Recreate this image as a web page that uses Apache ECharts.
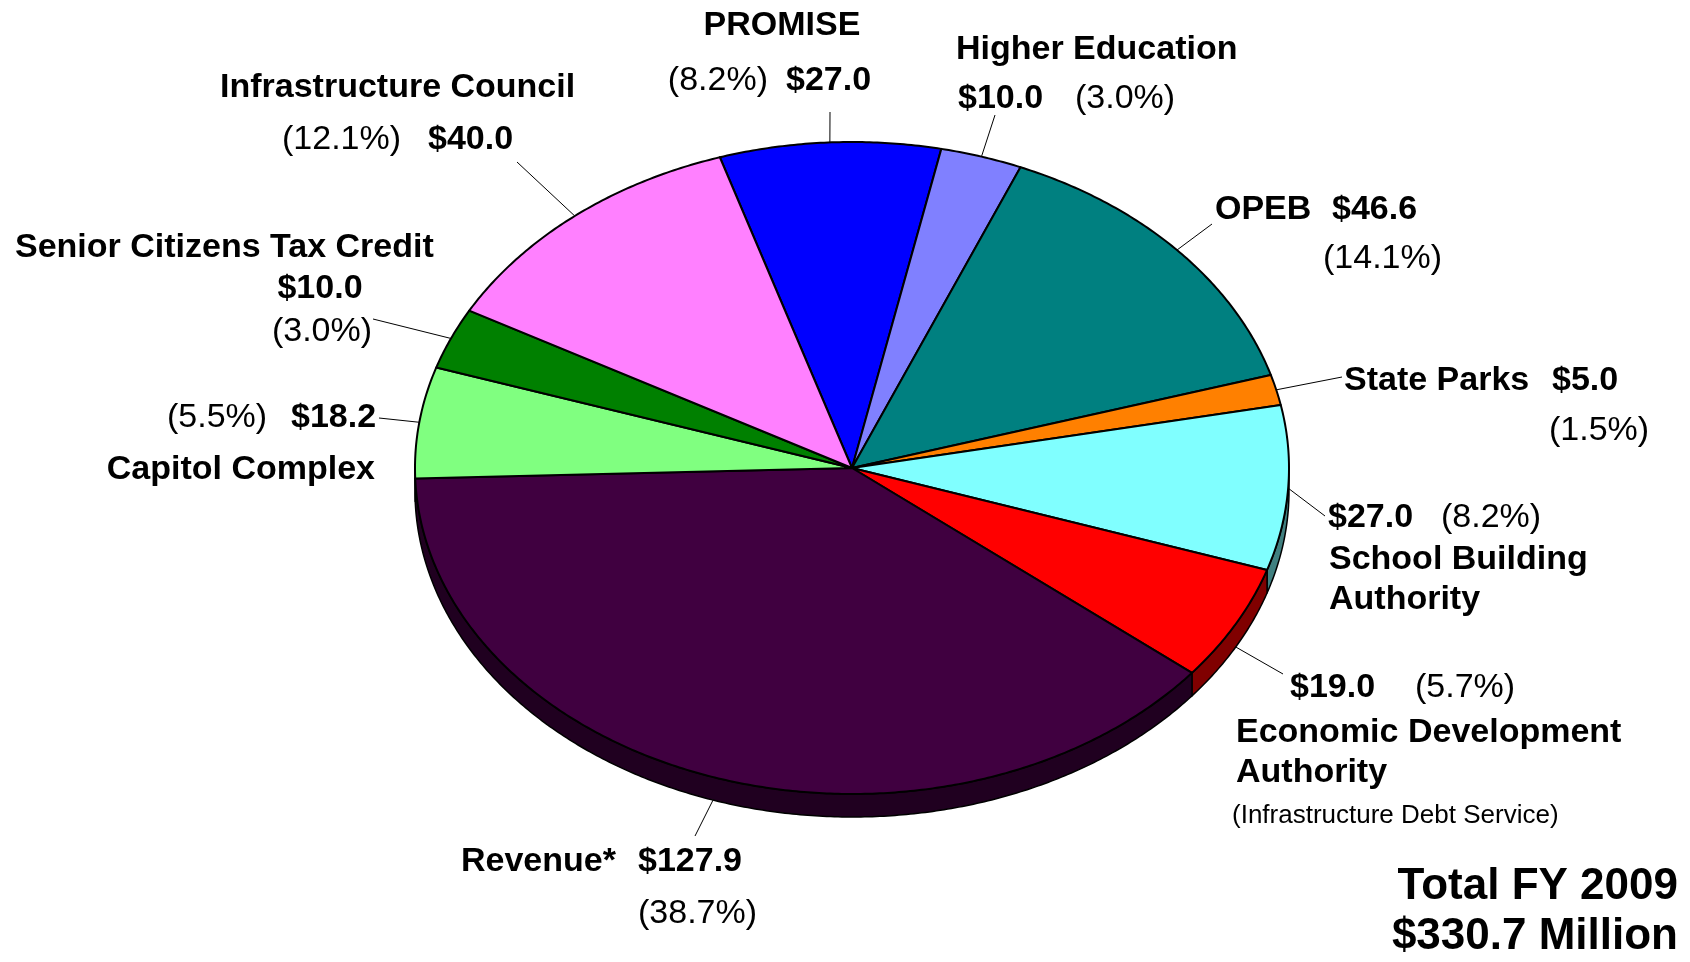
<!DOCTYPE html>
<html>
<head>
<meta charset="utf-8">
<style>
  html, body { margin: 0; padding: 0; background: #ffffff; }
  #chart { width: 1690px; height: 962px; }
</style>
<script src="https://cdn.jsdelivr.net/npm/echarts@6/dist/echarts.min.js"></script>
</head>
<body>
<div id="chart"></div>
<script>
// ---- data ----
const categories = ['PROMISE', 'Higher Education', 'OPEB', 'State Parks', 'School Building\nAuthority',
  'Economic Development\nAuthority', 'Revenue*', 'Capitol Complex', 'Senior Citizens Tax Credit', 'Infrastructure Council'];
const values = [27.0, 10.0, 46.6, 5.0, 27.0, 19.0, 127.9, 18.2, 10.0, 40.0];
const percents = ['8.2%', '3.0%', '14.1%', '1.5%', '8.2%', '5.7%', '38.7%', '5.5%', '3.0%', '12.1%'];
const edaNote = '(Infrastructure Debt Service)';
const totalLines = ['Total FY 2009', '$330.7 Million'];

// ---- styling / layout (not data) ----
const colors = ['#0000FF', '#8080FF', '#008080', '#FF8000', '#80FFFF', '#FF0000', '#400040', '#80FF80', '#008000', '#FF80FF'];
const CX = 852, CY = 468, RX = 437, RY = 326, DEPTH = 23, START_DEG = -17.6;
const FONT = '"Liberation Sans", Arial, sans-serif';
const BOLD = 'bold 34px ' + FONT, REG = '34px ' + FONT;

const layout = [
  { name: [782, 26, 'center'], pct: [768, 81, 'right'], val: [786, 81, 'left'], lead: [830, 112] },
  { name: [956, 50, 'left'], val: [958, 99, 'left'], pct: [1075, 99, 'left'], lead: [995, 115] },
  { name: [1215, 210, 'left'], val: [1332, 210, 'left'], pct: [1323, 259, 'left'], lead: [1212, 224] },
  { name: [1344, 381, 'left'], val: [1552, 381, 'left'], pct: [1549, 431, 'left'], lead: [1342, 377] },
  { val: [1328, 518, 'left'], pct: [1441, 518, 'left'], name: [1329, 580, 'left'], lead: [1325, 516] },
  { val: [1290, 688, 'left'], pct: [1415, 688, 'left'], name: [1236, 753, 'left'], note: [1232, 816, 'left'], lead: [1283, 674] },
  { name: [461, 862, 'left'], val: [638, 862, 'left'], pct: [638, 914, 'left'], lead: [695, 836] },
  { pct: [167, 418, 'left'], val: [291, 418, 'left'], name: [375, 470, 'right'], lead: [379, 418] },
  { name: [15, 248, 'left'], val: [320, 289, 'center'], pct: [322, 332, 'center'], lead: [373, 319] },
  { name: [220, 88, 'left'], pct: [282, 140, 'left'], val: [428, 140, 'left'], lead: [517, 162] }
];

function darken(hex, f) {
  const n = parseInt(hex.slice(1), 16);
  const r = Math.round(((n >> 16) & 255) * f), g = Math.round(((n >> 8) & 255) * f), b = Math.round((n & 255) * f);
  return 'rgb(' + r + ',' + g + ',' + b + ')';
}
function rim(deg, dy) {
  const r = deg * Math.PI / 180;
  return [CX + RX * Math.sin(r), CY - RY * Math.cos(r) + (dy || 0)];
}
function arcPts(a1, a2, dy) {
  const pts = [];
  const n = Math.max(2, Math.ceil(Math.abs(a2 - a1) / 0.5));
  for (let k = 0; k <= n; k++) pts.push(rim(a1 + (a2 - a1) * k / n, dy));
  return pts;
}

const total = values.reduce((s, v) => s + v, 0);
function angles(i) {
  let before = 0;
  for (let k = 0; k < i; k++) before += values[k];
  const s = START_DEG + before / total * 360;
  const e = START_DEG + (before + values[i]) / total * 360;
  return [s, e];
}

const chart = echarts.init(document.getElementById('chart'), null, { renderer: 'canvas' });

const seriesData = values.map((v, i) => ({ value: v, name: categories[i] }));

// label texts
const graphics = [];
function addText(pos, text, font) {
  graphics.push({
    type: 'text', x: pos[0], y: pos[1], silent: true,
    style: { text: text, font: font, fill: '#000', textAlign: pos[2] || 'left', textVerticalAlign: 'middle', lineHeight: 40 }
  });
}
layout.forEach((L, i) => {
  addText(L.name, categories[i], BOLD);
  addText(L.val, '$' + values[i].toFixed(1), BOLD);
  addText(L.pct, '(' + percents[i] + ')', REG);
  if (L.note) addText(L.note, edaNote, '26px ' + FONT);
});
graphics.push({ type: 'text', x: 1678, y: 887, silent: true,
  style: { text: totalLines[0], font: 'bold 44px ' + FONT, fill: '#000', textAlign: 'right', textVerticalAlign: 'middle' } });
graphics.push({ type: 'text', x: 1678, y: 937, silent: true,
  style: { text: totalLines[1], font: 'bold 44px ' + FONT, fill: '#000', textAlign: 'right', textVerticalAlign: 'middle' } });

const option = {
  animation: false,
  backgroundColor: '#ffffff',
  series: [
    {
      type: 'custom', name: 'side', coordinateSystem: 'none', silent: true, z: 1,
      data: seriesData,
      renderItem: function (params, api) {
        const i = params.dataIndex;
        const v = api.value(0);
        const [s, e] = angles(i);
        const p1 = Math.max(s, 90), p2 = Math.min(e, 270);
        if (!(v > 0) || p1 >= p2) return { type: 'group', children: [] };
        const top = arcPts(p1, p2, 0);
        const bot = arcPts(p2, p1, DEPTH);
        return {
          type: 'polygon',
          shape: { points: top.concat(bot) },
          style: { fill: darken(colors[i], 0.5), stroke: '#000', lineWidth: 1.5, lineJoin: 'round' }
        };
      }
    },
    {
      type: 'custom', name: 'top', coordinateSystem: 'none', silent: true, z: 2,
      data: seriesData,
      renderItem: function (params, api) {
        const i = params.dataIndex;
        const v = api.value(0);
        const [s, e] = angles(i);
        const pts = [[CX, CY]].concat(arcPts(s, e, 0));
        const mid = (s + e) / 2;
        const cosm = Math.cos(mid * Math.PI / 180);
        const st = rim(mid, cosm < -0.3 ? DEPTH : 0);
        const L = layout[i];
        return {
          type: 'group',
          children: [
            {
              type: 'polygon', shape: { points: pts },
              style: { fill: colors[i], stroke: '#000', lineWidth: 2, lineJoin: 'round' }
            },
            {
              type: 'line', shape: { x1: st[0], y1: st[1], x2: L.lead[0], y2: L.lead[1] },
              style: { stroke: '#000', lineWidth: 1 }
            }
          ]
        };
      }
    }
  ],
  graphic: { elements: graphics }
};
chart.setOption(option);
</script>
</body>
</html>
